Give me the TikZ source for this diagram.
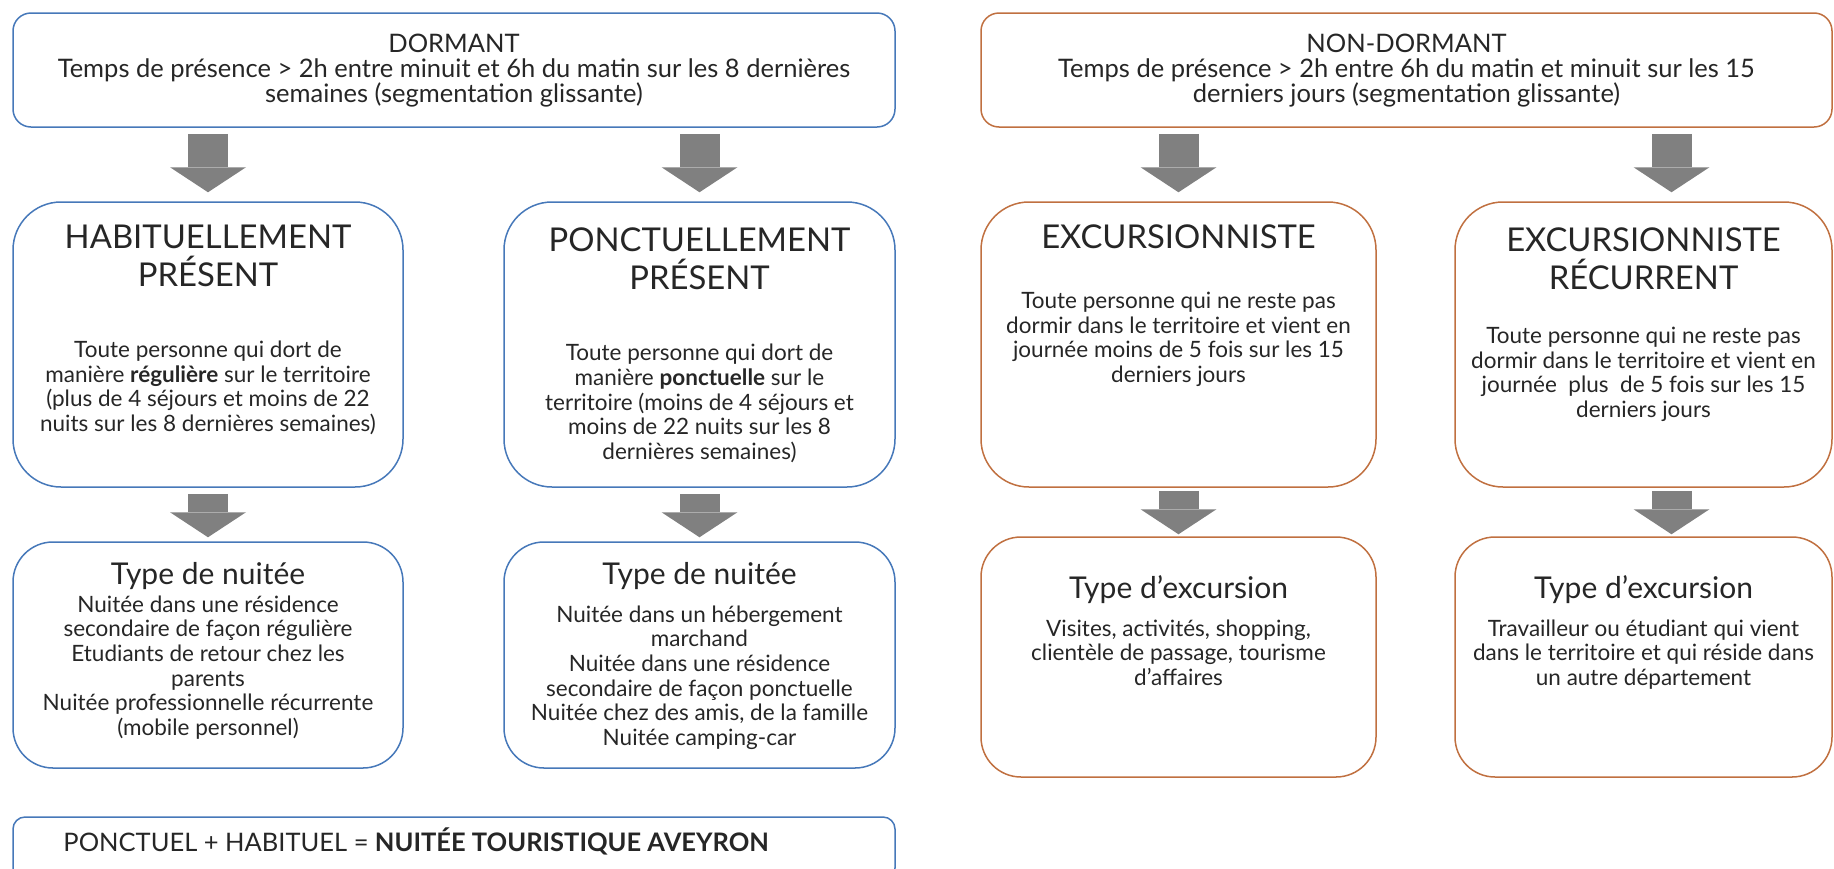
\documentclass[tikz,border=0pt]{standalone}
\usepackage{fontspec}
\setmainfont{Lato}
\usetikzlibrary{positioning,calc,arrows.meta}
\definecolor{boxblue}{RGB}{70,120,185}
\definecolor{boxorange}{RGB}{192,112,64}
\definecolor{arrowgray}{RGB}{128,128,128}
\definecolor{textgray}{RGB}{38,38,38}
% text nodes are placed by the baseline of their last line
\tikzset{
  topbox/.style={draw,line width=1.5pt,rounded corners=18pt,inner sep=0pt},
  midbox/.style={draw,line width=1.5pt,rounded corners=48pt,inner sep=0pt},
  typebox/.style={draw,line width=1.5pt,rounded corners=40pt,inner sep=0pt},
  sumbox/.style={draw=boxblue,line width=1.5pt,rounded corners=12pt,inner sep=0pt},
  toptext/.style={anchor=base,align=center,inner sep=0pt,text=textgray,font=\fontsize{25.5}{22.5}\selectfont},
  boxtitle/.style={anchor=base,align=center,inner sep=0pt,text=textgray,font=\fontsize{32.8}{38}\selectfont},
  typetitle/.style={anchor=base,align=center,inner sep=0pt,text=textgray,font=\fontsize{30}{34}\selectfont},
  boxtext/.style={anchor=base,align=center,inner sep=0pt,text=textgray,font=\fontsize{22.5}{24.6}\selectfont},
  bigarrow/.style={arrowgray,line width=40pt,-{Triangle[width=76pt,length=25pt,line width=0pt]}}
}
\begin{document}
\begin{tikzpicture}[x=1pt,y=1pt]
\useasboundingbox (0,0) rectangle (1834,-868);
% top row
\node[topbox,draw=boxblue,minimum width=882pt,minimum height=114pt] (dorm) at (454,-70) {};
\node[topbox,draw=boxorange,minimum width=851pt,minimum height=114pt] (nondorm) at (1406.5,-70) {};
\node[toptext] (dormT) at ([yshift=-90pt]dorm.north) {DORMANT\\[2pt]Temps de présence > 2h entre minuit et 6h du matin sur les 8 dernières\\semaines (segmentation glissante)};
\node[toptext] (nondormT) at ([yshift=-90pt]nondorm.north) {NON-DORMANT\\[2pt]Temps de présence > 2h entre 6h du matin et minuit sur les 15\\derniers jours (segmentation glissante)};
% middle row
\node[midbox,draw=boxblue,minimum width=390pt,minimum height=285pt] (hab) at (208,-344.5) {};
\node[midbox,draw=boxblue,minimum width=391pt,minimum height=285pt] (pon) at (699.5,-344.5) {};
\node[midbox,draw=boxorange,minimum width=395pt,minimum height=285pt] (exc) at (1178.5,-344.5) {};
\node[midbox,draw=boxorange,minimum width=377pt,minimum height=285pt] (rec) at (1643.5,-344.5) {};
\node[boxtitle] (habT) at ([yshift=-85pt]hab.north) {HABITUELLEMENT\\PRÉSENT};
\node[boxtext] (habB) at ([yshift=-230pt]hab.north) {Toute personne qui dort de\\manière \textbf{régulière} sur le territoire\\(plus de 4 séjours et moins de 22\\nuits sur les 8 dernières semaines)};
\node[boxtitle] (ponT) at ([yshift=-88pt]pon.north) {PONCTUELLEMENT\\PRÉSENT};
\node[boxtext] (ponB) at ([yshift=-258pt]pon.north) {Toute personne qui dort de\\manière \textbf{ponctuelle} sur le\\territoire (moins de 4 séjours et\\moins de 22 nuits sur les 8\\dernières semaines)};
\node[boxtitle] (excT) at ([yshift=-47pt]exc.north) {EXCURSIONNISTE};
\node[boxtext] (excB) at ([yshift=-181pt]exc.north) {Toute personne qui ne reste pas\\dormir dans le territoire et vient en\\journée moins de 5 fois sur les 15\\derniers jours};
\node[boxtitle] (recT) at ([yshift=-88pt]rec.north) {EXCURSIONNISTE\\RÉCURRENT};
\node[boxtext] (recB) at ([yshift=-216pt]rec.north) {Toute personne qui ne reste pas\\dormir dans le territoire et vient en\\journée \ plus \ de 5 fois sur les 15\\derniers jours};
% bottom row
\node[typebox,draw=boxblue,minimum width=390pt,minimum height=226pt] (nuith) at (208,-655) {};
\node[typebox,draw=boxblue,minimum width=391pt,minimum height=226pt] (nuitp) at (699.5,-655) {};
\node[typebox,draw=boxorange,minimum width=395pt,minimum height=240pt] (typexc) at (1178.5,-657) {};
\node[typebox,draw=boxorange,minimum width=377pt,minimum height=240pt] (typrec) at (1643.5,-657) {};
\node[typetitle] (nuithT) at ([yshift=-43pt]nuith.north) {Type de nuitée};
\node[boxtext] (nuithB) at ([yshift=-194pt]nuith.north) {Nuitée dans une résidence\\secondaire de façon régulière\\Etudiants de retour chez les\\parents\\Nuitée professionnelle récurrente\\(mobile personnel)};
\node[typetitle] (nuitpT) at ([yshift=-43pt]nuitp.north) {Type de nuitée};
\node[boxtext] (nuitpB) at ([yshift=-204pt]nuitp.north) {Nuitée dans un hébergement\\marchand\\Nuitée dans une résidence\\secondaire de façon ponctuelle\\Nuitée chez des amis, de la famille\\Nuitée camping-car};
\node[typetitle] (typexcT) at ([yshift=-62pt]typexc.north) {Type d’excursion};
\node[boxtext] (typexcB) at ([yshift=-149pt]typexc.north) {Visites, activités, shopping,\\clientèle de passage, tourisme\\d’affaires};
\node[typetitle] (typrecT) at ([yshift=-62pt]typrec.north) {Type d’excursion};
\node[boxtext] (typrecB) at ([yshift=-149pt]typrec.north) {Travailleur ou étudiant qui vient\\dans le territoire et qui réside dans\\un autre département};
% summary
\node[sumbox,minimum width=882pt,minimum height=63pt] (sum) at (454,-848.5) {};
\node[boxtext,anchor=base west,font=\fontsize{25.5}{25}\selectfont] (sumT) at ([xshift=51pt,yshift=-35pt]sum.north west) {PONCTUEL + HABITUEL = \textbf{NUITÉE TOURISTIQUE AVEYRON}};
% arrows
\draw[bigarrow] ($(dorm.south -| hab.north)+(0,-6)$) -- ($(hab.north)+(0,9)$);
\draw[bigarrow] ($(dorm.south -| pon.north)+(0,-6)$) -- ($(pon.north)+(0,9)$);
\draw[bigarrow] ($(nondorm.south -| exc.north)+(0,-6)$) -- ($(exc.north)+(0,9)$);
\draw[bigarrow] ($(nondorm.south -| rec.north)+(28,-6)$) -- ($(rec.north)+(28,9)$);
\draw[bigarrow] ($(hab.south)+(0,-6)$) -- ($(nuith.north)+(0,4)$);
\draw[bigarrow] ($(pon.south)+(0,-6)$) -- ($(nuitp.north)+(0,4)$);
\draw[bigarrow] ($(exc.south)+(0,-3)$) -- ($(typexc.north)+(0,2)$);
\draw[bigarrow] ($(rec.south)+(28,-3)$) -- ($(typrec.north)+(28,2)$);
\end{tikzpicture}
\end{document}
